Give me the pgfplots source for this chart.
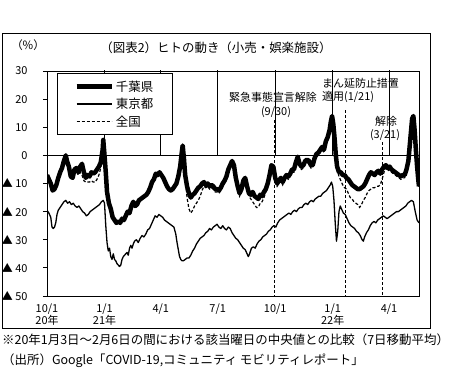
\documentclass[border=0pt]{standalone}
\usepackage{fontspec}
\setmainfont{Noto Sans CJK JP}
\usepackage{pgfplots}
\pgfplotsset{compat=1.18}
\begin{document}
\begin{tikzpicture}[font=\fontsize{11}{12}\selectfont]
\path[use as bounding box] (0,0) rectangle (451bp,369bp);
\draw[line width=0.8bp] (2bp,41bp) rectangle (430bp,336bp);
\begin{axis}[at={(47bp,73bp)}, anchor=south west, scale only axis,
  width=372bp, height=225bp, xmin=0, xmax=595, ymin=-50, ymax=30,
  axis line style={line width=0.8bp},
  xtick={0,92,182,273,365,457,547},
  xticklabels={{10/1\\20年},{1/1\\21年},4/1,7/1,10/1,{1/1\\22年},4/1},
  xticklabel style={align=center, font=\fontsize{11}{9.5}\selectfont},
  xtick style={draw=none},
  ytick={-50,-40,-30,-20,-10,0,10,20,30},
  yticklabels={▲ 50,▲ 40,▲ 30,▲ 20,▲ 10,0,10,20,30},
  yticklabel style={font=\fontsize{11}{11}\selectfont, xshift=-12bp},
  ytick pos=left, tick align=outside, major tick length=4bp,
  ytick style={line width=0.8bp, black},
  legend style={at={(0.027,0.99)}, anchor=north west, draw=black, line width=0.8bp,
    inner xsep=17bp, inner ysep=5bp, row sep=1.5bp,
    font=\fontsize{12.5}{12.5}\selectfont, cells={anchor=west}},
  legend image code/.code={\draw[#1] (0bp,0bp) -- (35bp,0bp);},
]
\addplot[black, line width=4.5bp, line join=round] coordinates {
(0,-7) (3,-8.5) (6,-10) (9,-12.5) (12,-12) (15,-10.5) (18,-8) (21,-6) (24,-4.5) (27,-2) (30,0) (32,-2) (35,-4) (38,-7.5) (41,-8) (44,-5) (47,-4.5) (50,-6) (53,-4) (56,-3) (59,-6) (62,-8) (65,-7) (68,-7.5) (71,-6) (74,-6.5) (77,-6) (80,-5) (83,-4) (86,-2.5) (89,2) (90,5.5) (92,0) (94,-6) (96,-13) (99,-17) (102,-19) (105,-22) (108,-23) (111,-24) (114,-23.5) (117,-24) (120,-22.5) (123,-23) (126,-21.5) (129,-20) (132,-20.5) (135,-18) (138,-16.5) (141,-18) (144,-17.5) (147,-16) (150,-15.5) (153,-15) (156,-14.5) (159,-14) (162,-13) (165,-11.5) (168,-9.5) (171,-8.5) (174,-6.5) (177,-7) (180,-6) (183,-7) (186,-8) (189,-9.5) (192,-11) (195,-12) (198,-12.5) (201,-12) (204,-11) (207,-10) (210,-7.5) (213,-4) (215,0) (217,3.5) (219,-1) (221,-7) (224,-11) (227,-13.5) (230,-15) (233,-14) (236,-13.5) (239,-12.5) (242,-11.5) (245,-11) (248,-10) (251,-9.5) (254,-10.5) (257,-10) (260,-11) (263,-10.5) (266,-11) (269,-12) (272,-12) (275,-12.5) (278,-11.5) (281,-10) (284,-9) (287,-7.5) (290,-5) (293,-3.5) (296,-2) (299,-3.5) (302,-8) (305,-11) (308,-13.5) (311,-12) (314,-9) (317,-8) (320,-11) (323,-13.5) (326,-14) (329,-13) (332,-14.5) (335,-15) (338,-15.5) (341,-14) (344,-14.5) (347,-13) (350,-12) (353,-10) (356,-7) (359,-3.5) (362,-4) (365,-8) (368,-10) (371,-9) (374,-8) (377,-9.5) (380,-8) (383,-7) (386,-7.5) (389,-6.5) (392,-5) (395,-5) (398,-2.5) (401,-0.5) (404,-3) (407,-4) (410,-3.5) (413,-2) (416,-1.5) (419,-2) (422,-3.5) (425,-3.5) (428,-1) (431,0.5) (434,1) (437,2) (440,3) (443,2) (446,5) (449,6.5) (452,9) (454,12) (456,14) (458,11) (460,6) (462,0) (464,-4) (467,-6) (470,-6) (473,-7) (476,-7) (479,-8) (482,-8.5) (485,-9.5) (488,-10.5) (491,-11) (494,-11.5) (497,-12) (500,-12) (503,-11.5) (506,-11) (509,-10) (512,-8.5) (515,-7) (518,-6) (521,-6.5) (524,-7) (527,-6) (530,-5.5) (533,-6.5) (536,-5) (539,-4) (542,-3.5) (545,-4.5) (548,-4) (551,-5) (554,-5.5) (557,-6) (560,-6.5) (563,-7) (566,-7.5) (569,-7) (572,-7) (575,-5) (578,-2) (580,3) (582,8) (584,13) (586,14) (588,9) (590,2) (592,-4) (594,-9) (595,-11)
};
\addlegendentry{千葉県}
\addplot[black, line width=1.3bp, line join=round] coordinates {
(0,-19.5) (3,-20.5) (6,-22) (8,-25.5) (10,-26) (12,-25.5) (14,-24) (16,-21) (18,-19.5) (21,-18.5) (24,-17.5) (27,-16.5) (30,-16) (33,-17) (36,-16.5) (39,-17.5) (42,-17) (45,-18) (48,-18.5) (51,-18) (54,-19) (57,-20) (60,-20.5) (63,-21.5) (66,-21) (69,-20) (72,-19.5) (75,-19) (78,-18.5) (81,-18) (84,-17.5) (87,-16.5) (90,-16) (92,-17) (94,-25) (96,-31) (98,-34) (100,-33) (102,-36) (104,-37) (106,-35) (108,-37) (110,-37.5) (112,-38.5) (114,-39) (116,-39.5) (118,-39) (120,-37) (122,-36) (124,-35.5) (126,-35) (128,-34.5) (130,-35.5) (132,-33) (134,-32) (136,-33) (138,-31.5) (140,-30.5) (143,-30) (146,-31) (149,-29.5) (152,-28.5) (155,-29) (158,-28) (161,-26.5) (164,-26) (167,-24.5) (170,-23) (173,-21.5) (176,-22) (179,-21) (182,-21.5) (185,-22) (188,-23) (191,-23.5) (194,-24) (197,-24.5) (200,-25) (203,-25.5) (206,-28) (208,-31) (210,-33.5) (212,-36) (214,-37) (216,-37.5) (218,-37.5) (221,-37) (224,-36.5) (227,-36.5) (230,-35.5) (233,-34) (236,-33) (239,-31.5) (242,-30.5) (245,-29.5) (248,-29) (251,-28.5) (254,-27.5) (257,-27) (260,-26) (263,-26.5) (266,-25.5) (269,-25) (272,-24.5) (275,-25.5) (278,-26) (281,-25) (284,-26) (287,-26.5) (290,-25.5) (293,-26) (296,-27.5) (299,-28.5) (302,-29.5) (305,-30) (308,-31) (311,-32) (314,-33) (317,-33.5) (320,-35) (322,-36) (324,-35) (327,-33) (330,-32.5) (333,-33) (336,-31.5) (339,-30.5) (342,-30) (345,-29) (348,-28.5) (351,-28) (354,-27) (357,-26.5) (360,-25.5) (363,-25) (366,-25.5) (369,-24) (372,-23) (375,-22.5) (378,-22) (381,-21.5) (384,-21) (387,-20.5) (390,-21) (393,-20) (396,-19.5) (399,-20) (402,-19) (405,-18.5) (408,-18.5) (411,-17.5) (414,-17) (417,-17.5) (420,-16.5) (423,-16) (426,-16.5) (429,-15.5) (432,-15) (435,-14.5) (438,-14.5) (441,-13.5) (444,-13) (447,-12.5) (450,-11.5) (453,-10.5) (455,-9.5) (457,-11) (459,-16) (461,-24) (463,-30.5) (465,-27) (467,-20) (469,-18) (471,-19) (474,-20.5) (477,-21) (480,-22.5) (483,-24) (486,-25) (489,-25.5) (492,-26) (495,-27) (498,-27.5) (501,-28.5) (504,-30) (506,-30.5) (508,-29) (511,-27.5) (514,-26.5) (517,-25) (520,-24) (523,-23.5) (526,-24) (529,-23) (532,-22.5) (535,-22) (538,-21.5) (541,-22) (544,-22.5) (547,-22) (550,-21.5) (553,-21) (556,-20.5) (559,-20) (562,-20) (565,-19.5) (568,-19) (571,-18.5) (574,-18) (577,-17) (580,-16.5) (583,-16) (586,-16.5) (589,-20) (592,-23) (595,-24)
};
\addlegendentry{東京都}
\addplot[black, line width=1.2bp, dash pattern=on 3bp off 2bp] coordinates {
(0,-7.5) (3,-9) (6,-10.5) (9,-12.5) (12,-12.5) (15,-11) (18,-8.5) (21,-6.5) (24,-5) (27,-3) (30,-1) (32,-2.5) (35,-4.5) (38,-8) (41,-8.5) (44,-6) (47,-5.5) (50,-7) (53,-6) (56,-7) (59,-9) (62,-9.5) (65,-9.5) (68,-9.5) (71,-9) (74,-9.5) (77,-9.5) (80,-8.5) (83,-7) (86,-4.5) (89,0.5) (90,3) (92,-1) (94,-7) (96,-13.5) (99,-17.5) (102,-19.5) (105,-22.5) (108,-23.5) (111,-24.5) (114,-24) (117,-24.5) (120,-23) (123,-23.5) (126,-22) (129,-20.5) (132,-21) (135,-18.5) (138,-17) (141,-18.5) (144,-18) (147,-16.5) (150,-16) (153,-15.5) (156,-15) (159,-14.5) (162,-13.5) (165,-12) (168,-10) (171,-9) (174,-7) (177,-7.5) (180,-6.5) (183,-7.5) (186,-8.5) (189,-10) (192,-11.5) (195,-12.5) (198,-13) (201,-12.5) (204,-11.5) (207,-10.5) (210,-8.5) (213,-5.5) (215,-2) (217,1) (219,-3) (221,-8) (224,-15) (227,-19) (230,-20.5) (233,-19.5) (236,-18) (239,-17) (242,-16) (245,-14.5) (248,-12.5) (251,-11) (254,-11.5) (257,-11) (260,-12) (263,-11.5) (266,-12) (269,-13) (272,-13) (275,-13.5) (278,-12.5) (281,-11) (284,-10) (287,-8.5) (290,-6) (293,-4.5) (296,-3) (299,-4.5) (302,-9) (305,-12) (308,-14.5) (311,-13) (314,-10) (317,-9) (320,-12) (323,-14.5) (326,-15.5) (329,-16.5) (332,-17.5) (335,-18.5) (338,-18.5) (341,-17) (344,-16.5) (347,-15) (350,-13) (353,-11) (356,-8) (359,-4.5) (362,-5) (365,-9) (368,-11) (371,-10) (374,-9) (377,-10.5) (380,-9) (383,-8) (386,-8.5) (389,-7.5) (392,-6) (395,-6) (398,-3.5) (401,-1.5) (404,-4) (407,-5) (410,-4.5) (413,-3) (416,-2.5) (419,-3) (422,-4.5) (425,-4.5) (428,-2) (431,-0.5) (434,0) (437,1) (440,2) (443,1) (446,4) (449,5.5) (452,7.5) (454,10) (456,11.5) (458,9) (460,4.5) (462,-1) (464,-5) (467,-7.5) (470,-9) (473,-10.5) (476,-11.5) (479,-12) (482,-13.5) (485,-15) (488,-15.5) (491,-16.5) (494,-17) (497,-17.5) (500,-18.5) (503,-17.5) (506,-16) (509,-15) (512,-13.5) (515,-12.5) (518,-12) (521,-11.5) (524,-11.5) (527,-11) (530,-11) (533,-10.5) (536,-8.5) (539,-6) (542,-4.5) (545,-5.5) (548,-5) (551,-6) (554,-6.5) (557,-7) (560,-7.5) (563,-8) (566,-8.5) (569,-8) (572,-8) (575,-6) (578,-3) (580,1) (582,5) (584,9) (586,10) (588,6) (590,0) (592,-5) (594,-9.5) (595,-11.5)
};
\addlegendentry{全国}
\draw[line width=0.8bp] (axis cs:0,0) -- (axis cs:595,0);
\pgfplotsinvokeforeach{92,182,273,365,457,547}{\draw[line width=0.8bp] (axis cs:#1,0) -- ++(0,4bp);}
\draw[line width=0.9bp, dash pattern=on 3bp off 2bp] (axis cs:364,12.5) -- (axis cs:364,-50);
\draw[line width=0.9bp, dash pattern=on 3bp off 2bp] (axis cs:477,16) -- (axis cs:477,-50);
\draw[line width=0.9bp, dash pattern=on 3bp off 2bp] (axis cs:536,4.6) -- (axis cs:536,-50);
\end{axis}
\node[font=\fontsize{12.5}{12.5}\selectfont] at (216bp,321bp) {（図表2）ヒトの動き（小売・娯楽施設）};
\node[font=\fontsize{11.5}{11.5}\selectfont] at (28bp,324bp) {（\%）};
\node[inner sep=0] at (273bp,272bp) {緊急事態宣言解除};
\node[inner sep=0] at (276bp,257bp) {(9/30)};
\node[inner sep=0, anchor=west] at (322bp,286bp) {まん延防止措置};
\node[inner sep=0, anchor=west] at (322bp,272bp) {適用(1/21)};
\node[inner sep=0] at (386bp,248bp) {解除};
\node[inner sep=0] at (385bp,234bp) {(3/21)};
\node[inner sep=0, anchor=west, font=\fontsize{12.5}{12.5}\selectfont] at (2bp,29bp) {※20年1月3日～2月6日の間における該当曜日の中央値との比較（7日移動平均）};
\node[inner sep=0, anchor=west, font=\fontsize{12.5}{12.5}\selectfont] at (2bp,8bp) {（出所）Google「COVID-19,コミュニティ モビリティレポート」};
\end{tikzpicture}
\end{document}
